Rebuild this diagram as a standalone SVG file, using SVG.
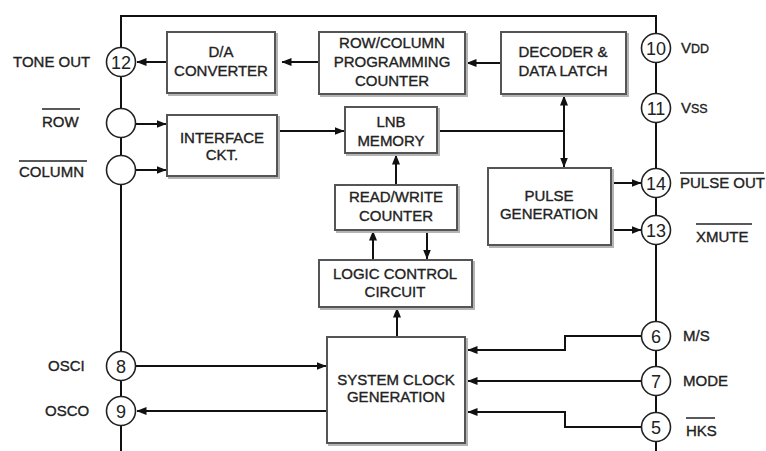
<svg xmlns="http://www.w3.org/2000/svg" width="766" height="451" viewBox="0 0 766 451">
<defs>
<marker id="ah" markerUnits="userSpaceOnUse" markerWidth="10" markerHeight="8" refX="9.5" refY="4" orient="auto-start-reverse">
<path d="M0,0 L10,4 L0,8 z" fill="#111"/>
</marker>
<style>
.box{fill:#fff;stroke:#555;stroke-width:2}
.sh{fill:none;stroke:#b4b4b4;stroke-width:2}
.bt{font-family:"Liberation Sans",Arial,sans-serif;font-size:15px;fill:#222;stroke:#222;stroke-width:0.35;text-anchor:middle}
.lb{font-family:"Liberation Sans",Arial,sans-serif;font-size:15px;fill:#222;stroke:#222;stroke-width:0.35}
.pin{fill:#fff;stroke:#222;stroke-width:1.6}
.pn{font-family:"Liberation Sans",Arial,sans-serif;font-size:18px;fill:#222;text-anchor:middle}
.ln{fill:none;stroke:#111;stroke-width:2}
.ov{stroke:#222;stroke-width:1.5}
</style>
</defs>
<rect width="766" height="451" fill="#fff"/>
<g id="connectors" class="ln">
<path d="M121,451 V16 H656 V451"/>
<line x1="167" y1="62" x2="137" y2="62" marker-end="url(#ah)"/>
<line x1="319" y1="62" x2="282" y2="62" marker-end="url(#ah)"/>
<line x1="501" y1="63" x2="467" y2="63" marker-end="url(#ah)"/>
<line x1="136" y1="124" x2="166" y2="124" marker-end="url(#ah)"/>
<line x1="136" y1="170" x2="166" y2="170" marker-end="url(#ah)"/>
<line x1="278" y1="131" x2="344" y2="131" marker-end="url(#ah)"/>
<line x1="438" y1="131" x2="564" y2="131"/>
<line x1="564" y1="96" x2="564" y2="167" marker-start="url(#ah)" marker-end="url(#ah)"/>
<line x1="611" y1="183" x2="641" y2="183" marker-end="url(#ah)"/>
<line x1="611" y1="230" x2="641" y2="230" marker-end="url(#ah)"/>
<line x1="396" y1="185" x2="396" y2="155" marker-end="url(#ah)"/>
<line x1="373" y1="260" x2="373" y2="231" marker-end="url(#ah)"/>
<line x1="427" y1="230" x2="427" y2="259" marker-end="url(#ah)"/>
<line x1="397" y1="337" x2="397" y2="308" marker-end="url(#ah)"/>
<line x1="136" y1="366" x2="326" y2="366" marker-end="url(#ah)"/>
<line x1="327" y1="411" x2="137" y2="411" marker-end="url(#ah)"/>
<path d="M641,336 H565 V350 H468" marker-end="url(#ah)"/>
<line x1="641" y1="381" x2="468" y2="381" marker-end="url(#ah)"/>
<path d="M641,427 H565 V412 H468" marker-end="url(#ah)"/>
</g>
<g id="da">
<rect class="sh" x="169" y="34" width="108" height="61"/>
<rect class="box" x="167" y="32" width="108" height="61"/>
<text class="bt" x="221" y="57">D/A</text>
<text class="bt" x="221" y="76">CONVERTER</text>
</g>
<g id="rowcol">
<rect class="sh" x="321" y="34" width="146" height="62"/>
<rect class="box" x="319" y="32" width="146" height="62"/>
<text class="bt" x="392" y="48">ROW/COLUMN</text>
<text class="bt" x="392" y="67">PROGRAMMING</text>
<text class="bt" x="392" y="86">COUNTER</text>
</g>
<g id="decoder">
<rect class="sh" x="503" y="34" width="125" height="62"/>
<rect class="box" x="501" y="32" width="125" height="62"/>
<text class="bt" x="563" y="57">DECODER &amp;</text>
<text class="bt" x="563" y="76">DATA LATCH</text>
</g>
<g id="interface">
<rect class="sh" x="169" y="117" width="110" height="61"/>
<rect class="box" x="167" y="115" width="110" height="61"/>
<text class="bt" x="222" y="143">INTERFACE</text>
<text class="bt" x="222" y="160">CKT.</text>
</g>
<g id="lnb">
<rect class="sh" x="347" y="109" width="92" height="46"/>
<rect class="box" x="345" y="107" width="92" height="46"/>
<text class="bt" x="391" y="127">LNB</text>
<text class="bt" x="391" y="146">MEMORY</text>
</g>
<g id="rw">
<rect class="sh" x="337" y="187" width="122" height="45"/>
<rect class="box" x="335" y="185" width="122" height="45"/>
<text class="bt" x="396" y="202">READ/WRITE</text>
<text class="bt" x="396" y="221">COUNTER</text>
</g>
<g id="logic">
<rect class="sh" x="321" y="262" width="153" height="47"/>
<rect class="box" x="319" y="260" width="153" height="47"/>
<text class="bt" x="395" y="279">LOGIC CONTROL</text>
<text class="bt" x="395" y="297">CIRCUIT</text>
</g>
<g id="pulse">
<rect class="sh" x="490" y="170" width="123" height="77"/>
<rect class="box" x="488" y="168" width="123" height="77"/>
<text class="bt" x="549" y="201">PULSE</text>
<text class="bt" x="549" y="219">GENERATION</text>
</g>
<g id="sysclk">
<rect class="sh" x="329" y="339" width="138" height="106"/>
<rect class="box" x="327" y="337" width="138" height="106"/>
<text class="bt" x="396" y="385">SYSTEM CLOCK</text>
<text class="bt" x="396" y="402">GENERATION</text>
</g>
<g id="pin12">
<circle class="pin" cx="121" cy="62" r="14.5"/>
<text class="pn" x="121" y="68.5">12</text>
<text class="lb" x="13" y="67">TONE OUT</text>
</g>
<g id="pinrow">
<circle class="pin" cx="121" cy="123" r="14.5"/>
<text class="lb" x="42" y="127">ROW</text>
<line class="ov" x1="42" y1="109" x2="80" y2="109"/>
</g>
<g id="pincol">
<circle class="pin" cx="121" cy="170" r="14.5"/>
<text class="lb" x="19" y="177">COLUMN</text>
<line class="ov" x1="19" y1="161" x2="87" y2="161"/>
</g>
<g id="pin8">
<circle class="pin" cx="121" cy="366" r="14.5"/>
<text class="pn" x="121" y="372.5">8</text>
<text class="lb" x="48" y="371">OSCI</text>
</g>
<g id="pin9">
<circle class="pin" cx="121" cy="411" r="14.5"/>
<text class="pn" x="121" y="417.5">9</text>
<text class="lb" x="45" y="416">OSCO</text>
</g>
<g id="pin10">
<circle class="pin" cx="656" cy="48" r="14.5"/>
<text class="pn" x="656" y="54.5">10</text>
<text class="lb" x="681" y="53">V<tspan font-size="12.5">DD</tspan></text>
</g>
<g id="pin11">
<circle class="pin" cx="656" cy="108" r="14.5"/>
<text class="pn" x="656" y="114.5">11</text>
<text class="lb" x="681" y="113">V<tspan font-size="12.5">SS</tspan></text>
</g>
<g id="pin14">
<circle class="pin" cx="656" cy="183" r="14.5"/>
<text class="pn" x="656" y="189.5">14</text>
<text class="lb" x="680" y="188">PULSE OUT</text>
<line class="ov" x1="680" y1="173" x2="764" y2="173"/>
</g>
<g id="pin13">
<circle class="pin" cx="656" cy="230" r="14.5"/>
<text class="pn" x="656" y="236.5">13</text>
<text class="lb" x="696" y="242">XMUTE</text>
<line class="ov" x1="696" y1="224" x2="752" y2="224"/>
</g>
<g id="pin6">
<circle class="pin" cx="656" cy="336" r="14.5"/>
<text class="pn" x="656" y="342.5">6</text>
<text class="lb" x="683" y="341">M/S</text>
</g>
<g id="pin7">
<circle class="pin" cx="656" cy="381" r="14.5"/>
<text class="pn" x="656" y="387.5">7</text>
<text class="lb" x="683" y="386">MODE</text>
</g>
<g id="pin5">
<circle class="pin" cx="656" cy="427" r="14.5"/>
<text class="pn" x="656" y="433.5">5</text>
<text class="lb" x="686" y="436">HKS</text>
<line class="ov" x1="686" y1="418" x2="715" y2="418"/>
</g>
</svg>
